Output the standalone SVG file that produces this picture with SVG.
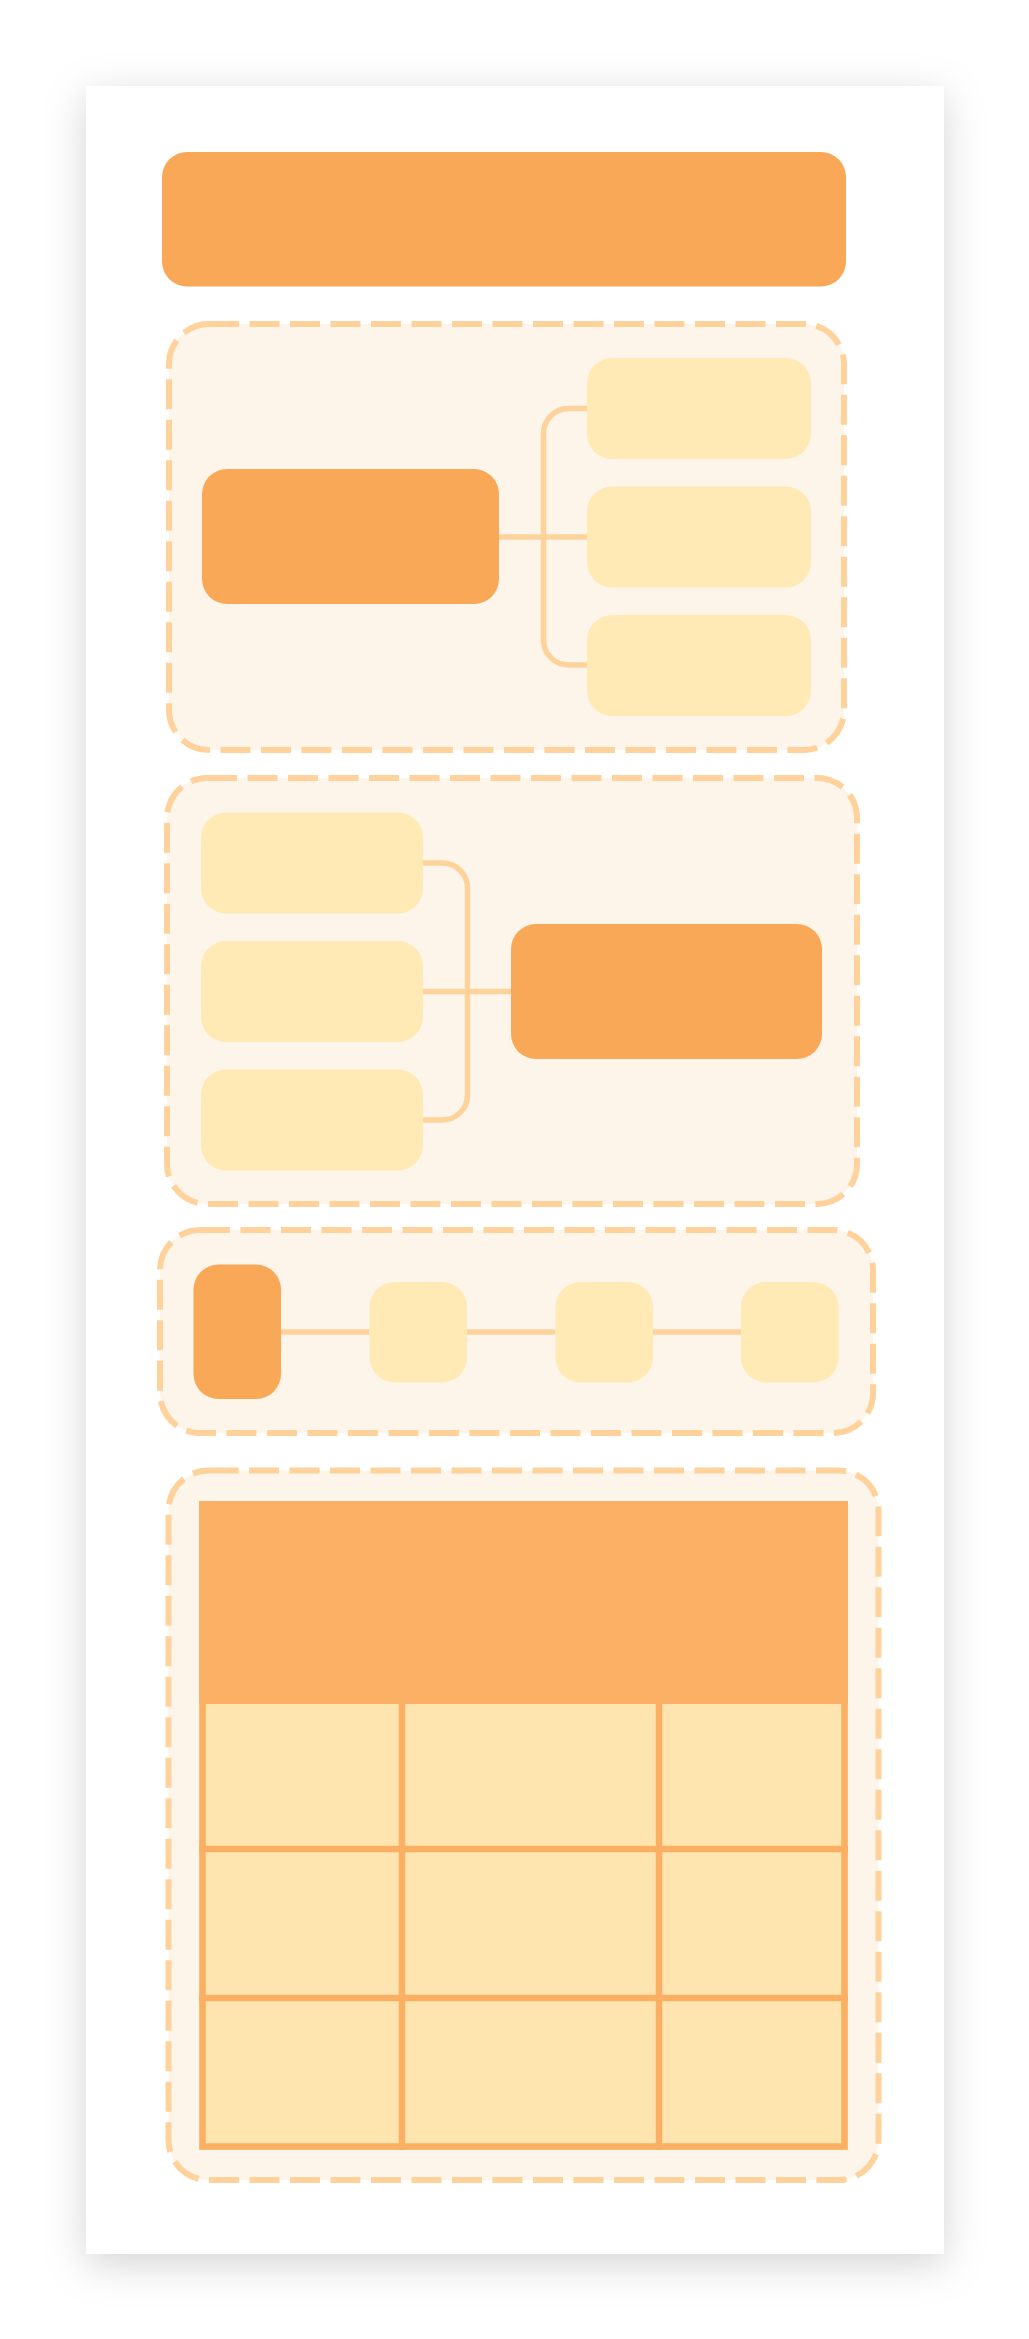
<svg xmlns="http://www.w3.org/2000/svg" width="1029" height="2339" viewBox="0 0 1029 2339">
<defs>
<filter id="sh" x="-15%" y="-6%" width="130%" height="112%"><feDropShadow dx="0" dy="10" stdDeviation="20" flood-color="#000" flood-opacity="0.17"/></filter>
</defs>
<style>
.grp{fill:#FDF5EA;stroke:#FED29A;stroke-width:6;stroke-dasharray:30 10.5}
.main{fill:#F9A857}
.sub{fill:#FFEAB6}
.conn{fill:none;stroke:#FED39B;stroke-width:5.5}
.grid{fill:none;stroke:#FBAF62;stroke-width:6.5}
.cell{fill:#FEE5B0}
.hdr{fill:#FBB065}
</style>
<rect width="1029" height="2339" fill="#fff"/>
<rect id="page" x="86" y="86" width="858" height="2168" fill="#fff" filter="url(#sh)"/>
<g id="title"><rect class="main" x="162" y="152" width="684" height="134.5" rx="25"/></g>
<g id="group1"><rect class="grp" x="169" y="324" width="675" height="426" rx="40"/></g>
<g id="group2"><rect class="grp" x="167" y="778" width="690" height="426" rx="40"/></g>
<g id="group3"><rect class="grp" x="160" y="1230" width="713" height="203" rx="40"/></g>
<g id="group4"><rect class="grp" x="168.5" y="1470.5" width="710" height="709.5" rx="40"/></g>
<g id="connectors">
<path class="conn" d="M499 537 H587"/>
<path class="conn" d="M587 408.5 H568.5 A25 25 0 0 0 543.5 433.5 V640 A25 25 0 0 0 568.5 665 H587"/>
<path class="conn" d="M423 991.5 H511"/>
<path class="conn" d="M423 863 H442.5 A25 25 0 0 1 467.5 888 V1095 A25 25 0 0 1 442.5 1120 H423"/>
<path class="conn" d="M281 1332 H369.5"/>
<path class="conn" d="M467 1332 H555.5"/>
<path class="conn" d="M653 1332 H741"/>
</g>
<g id="g1-root"><rect class="main" x="202" y="469" width="297" height="135" rx="25"/></g>
<g id="g1-child1"><rect class="sub" x="587" y="358" width="224" height="101" rx="25"/></g>
<g id="g1-child2"><rect class="sub" x="587" y="486.5" width="224" height="101" rx="25"/></g>
<g id="g1-child3"><rect class="sub" x="587" y="615" width="224" height="101" rx="25"/></g>
<g id="g2-child1"><rect class="sub" x="201" y="812.5" width="222" height="101" rx="25"/></g>
<g id="g2-child2"><rect class="sub" x="201" y="941" width="222" height="101" rx="25"/></g>
<g id="g2-child3"><rect class="sub" x="201" y="1069.5" width="222" height="101" rx="25"/></g>
<g id="g2-root"><rect class="main" x="511" y="924" width="311" height="135" rx="25"/></g>
<g id="g3-node1"><rect class="main" x="193.5" y="1264.5" width="87.5" height="134.5" rx="25"/></g>
<g id="g3-node2"><rect class="sub" x="369.5" y="1282" width="97.5" height="100.5" rx="25"/></g>
<g id="g3-node3"><rect class="sub" x="555.5" y="1282" width="97.5" height="100.5" rx="25"/></g>
<g id="g3-node4"><rect class="sub" x="741" y="1282" width="97.5" height="100.5" rx="25"/></g>
<g id="table">
<rect class="hdr" x="199" y="1501" width="649" height="203"/>
<rect class="cell" x="199" y="1704" width="649" height="446"/>
<path class="grid" d="M202.5 1704 V2146.5 H844.5 V1704"/>
<path class="grid" d="M199 1849 H848 M199 1998 H848 M402 1704 V2150 M659 1704 V2150"/>
</g>
</svg>
